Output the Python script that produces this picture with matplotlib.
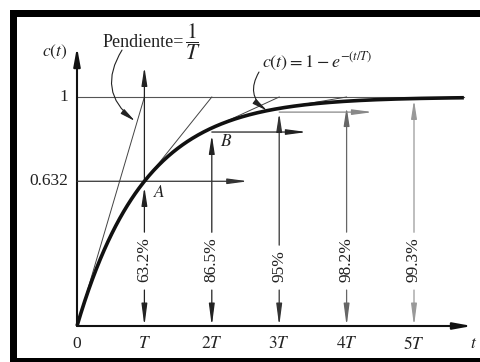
import numpy as np
import matplotlib
matplotlib.use('Agg')
import matplotlib.pyplot as plt
from matplotlib.patches import Rectangle

plt.rcParams['font.family'] = ['Liberation Serif', 'DejaVu Serif']
plt.rcParams['mathtext.fontset'] = 'stix'

# first-order step response, time in units of T
multiples = [1, 2, 3, 4, 5]
tick_labels = ['$T$', '$2T$', '$3T$', '$4T$', '$5T$']
percents = ['63.2%', '86.5%', '95%', '98.2%', '99.3%']
arrow_tops = [0.607, 0.834, 0.930, 0.956, 0.987]   # where the up arrows stop
h_levels = [0.632, 0.847, 0.934]                    # horizontal arrows at 0, 2T, 3T
h_starts = [0, 2, 3]
h_ends = [2.54, 3.41, 4.39]
tangent_at = [0, 1, 2, 3]
t_end = 5.74

t = np.linspace(0, t_end, 400)
c = 1 - np.exp(-t)

fig = plt.figure(figsize=(4.8, 3.62), dpi=100)
ax = fig.add_axes([0, 0, 1, 1])
ax.set_xlim(-77 / 67.4, 403 / 67.4)
ax.set_ylim(-36 / 229, 326 / 229)
ax.axis('off')

# frame bars
for r in [(10 / 480, 1 - 17 / 362, 470 / 480, 7 / 362),
          (10 / 480, 0, 7 / 480, 1 - 10 / 362),
          (10 / 480, 0, 470 / 480, 4 / 362)]:
    ax.add_patch(Rectangle(r[:2], r[2], r[3], transform=ax.transAxes,
                           color='black', lw=0, zorder=10))

def arrow(x0, y0, x1, y1, color='#222', lw=0.9, hl=0.9, hw=0.16, shrink=0):
    ax.annotate('', xy=(x1, y1), xytext=(x0, y0),
                arrowprops=dict(arrowstyle='-|>,head_length=%g,head_width=%g' % (hl, hw),
                                color=color, lw=lw, mutation_scale=10,
                                shrinkA=0, shrinkB=shrink))

# axes
arrow(0, 0, 5.86, 0, color='#111', lw=1.5, hl=1.1, hw=0.2)
arrow(0, 0, 0, 1.218, color='#111', lw=1.5, hl=1.1, hw=0.2)

# final value line and tangents
ax.plot([0, t_end], [1, 1], color='#555', lw=0.8)
for k in tangent_at:
    ck = 1 - np.exp(-k)
    ax.plot([k, k + 1], [ck, 1], color='#444', lw=0.7)

ax.plot(t, c, color='#111', lw=2.6, solid_capstyle='butt', zorder=5)

fs = 12.5
col_colors = ['#222', '#222', '#333', '#666', '#999']
fig.canvas.draw()
inv = ax.transData.inverted()
for k, lab, top, col in zip(multiples, percents, arrow_tops, col_colors):
    txt = ax.text(k, 0.192, lab, rotation=90, ha='center', va='bottom',
                  fontsize=fs, color='#222')
    bb = txt.get_window_extent(fig.canvas.get_renderer())
    y_lo = inv.transform((0, bb.y0 - 8))[1]
    y_hi = inv.transform((0, bb.y1 + 5))[1]
    arrow(k, y_lo, k, 0, color=col, hl=1.3, hw=0.17)
    arrow(k, y_hi, k, top, color=col, hl=1.1, hw=0.17)
    ax.text(k, -0.079, tick_labels[multiples.index(k)], ha='center', va='center',
            fontsize=fs, color='#222')

# line above A up to the slope intersection
arrow(1, 0.632, 1, 1.131, hl=1.1, hw=0.17)

for x0, x1, y, col in zip(h_starts, h_ends, h_levels, ['#333', '#222', '#888']):
    arrow(x0, y, x1, y, color=col, hl=1.2, hw=0.16)

# labels
ax.text(-0.326, 1.197, '$c(t)$', ha='center', va='center', fontsize=fs, color='#222')
ax.text(-0.13, 1.0, '1', ha='right', va='center', fontsize=fs, color='#222')
ax.text(-0.13, 0.632, '0.632', ha='right', va='center', fontsize=fs, color='#222')
ax.text(0, -0.079, '0', ha='center', va='center', fontsize=fs, color='#222')
ax.text(5.89, -0.079, '$t$', ha='center', va='center', fontsize=fs, color='#222')
ax.text(1.215, 0.581, '$A$', ha='center', va='center', fontsize=fs, color='#222')
ax.text(2.22, 0.803, '$B$', ha='center', va='center', fontsize=fs, color='#222')

ax.text(0.38, 1.24, 'Pendiente=', ha='left', va='center', fontsize=13, color='#222')
ax.text(1.72, 1.243, r'$\dfrac{1}{T}$', ha='center', va='center', fontsize=15.5,
        color='#222')
ax.annotate('', xy=(0.86, 0.895), xytext=(0.668, 1.205),
            arrowprops=dict(arrowstyle='-|>,head_length=0.9,head_width=0.17',
                            connectionstyle='arc3,rad=0.45', color='#222',
                            lw=0.8, mutation_scale=10, shrinkA=0, shrinkB=0))

ax.text(2.75, 1.155, r'$c(t) = 1 - e^{-(t/T)}$', ha='left', va='center',
        fontsize=13, color='#222')
ax.annotate('', xy=(2.82, 1 - np.exp(-2.82)), xytext=(2.70, 1.109),
            arrowprops=dict(arrowstyle='-|>,head_length=0.9,head_width=0.17',
                            connectionstyle='arc3,rad=0.45', color='#222',
                            lw=0.8, mutation_scale=10, shrinkA=0, shrinkB=0))

fig.savefig('out.png', dpi=100)
